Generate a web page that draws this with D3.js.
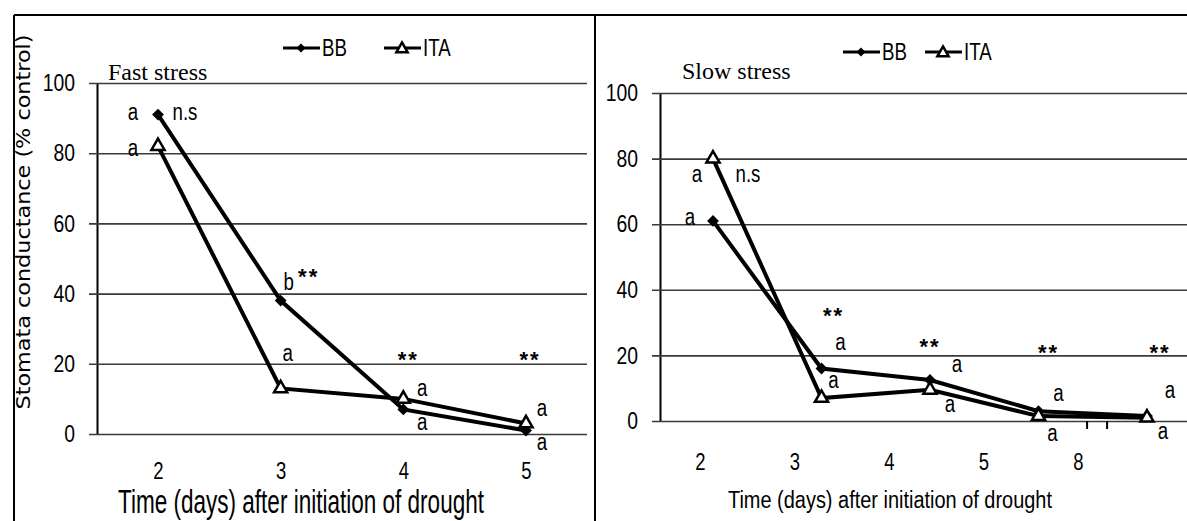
<!DOCTYPE html>
<html>
<head>
<meta charset="utf-8">
<script src="https://cdnjs.cloudflare.com/ajax/libs/d3/7.8.5/d3.min.js"></script>
<style>
body { margin: 0; background: #fff; }
</style>
</head>
<body>
<div id="chart"></div>
<script>
// data (% of control)
var daysFast = ["2", "3", "4", "5"];
var bbFast = [91, 38, 7, 1];
var itaFast = [82, 13, 10, 3];

var daysSlow = ["2", "3", "4", "5", "8"];
var bbSlow = [61, 16, 12.5, 3, 1.5];
var itaSlow = [80, 7, 9.5, 1.5, 1];

var yTicks = [0, 20, 40, 60, 80, 100];
var seriesNames = ["BB", "ITA"];

// letters / significance marks, [day, text]
var notesFast = [["2", "a"], ["2", "n.s"], ["2", "a"], ["3", "b"], ["3", "**"], ["3", "a"],
    ["4", "**"], ["4", "a"], ["4", "a"], ["5", "**"], ["5", "a"], ["5", "a"]];
var notesSlow = [["2", "a"], ["2", "n.s"], ["2", "a"], ["3", "**"], ["3", "a"], ["3", "a"],
    ["4", "**"], ["4", "a"], ["4", "a"], ["5", "**"], ["5", "a"], ["5", "a"],
    ["8", "**"], ["8", "a"], ["8", "a"]];

var sans = "'Liberation Sans', Arial, sans-serif";

var svg = d3.select("#chart")
    .append("svg")
    .attr("width", 1187)
    .attr("height", 521);

// squeeze text sideways to look like the narrow font of the original
function condense(sel, sx, sy) {
    sel.attr("transform", function () {
        var t = d3.select(this);
        var x = +t.attr("x") || 0, y = +t.attr("y") || 0;
        return "translate(" + x + "," + y + ") scale(" + sx + "," + sy + ") translate(" + (-x) + "," + (-y) + ")";
    });
}

// frame
svg.append("line").attr("x1", 14).attr("x2", 1187).attr("y1", 15).attr("y2", 15)
    .attr("stroke", "#000").attr("stroke-width", 2);
svg.append("line").attr("x1", 14).attr("x2", 14).attr("y1", 15).attr("y2", 521)
    .attr("stroke", "#000").attr("stroke-width", 2);
svg.append("line").attr("x1", 595).attr("x2", 595).attr("y1", 15).attr("y2", 521)
    .attr("stroke", "#000").attr("stroke-width", 2);

function drawPanel(p) {
    var g = svg.append("g");
    var y = d3.scaleLinear().domain([0, 100]).range([p.y0, p.y100]);
    var x = d3.scalePoint().domain(p.days).range(p.markRange);
    var xl = d3.scalePoint().domain(p.days).range(p.labelRange);

    var yAxis = g.append("g")
        .attr("transform", "translate(" + p.axisX + ",0)")
        .call(d3.axisLeft(y).tickValues(yTicks)
            .tickSize(-(p.gridEnd - p.axisX)).tickSizeOuter(0).tickPadding(22));
    yAxis.select(".domain").attr("stroke", "#000").attr("stroke-width", 2);
    yAxis.selectAll(".tick line")
        .attr("x1", -8)
        .attr("stroke", "#3a3a3a")
        .attr("stroke-width", 1.6);
    yAxis.selectAll(".tick text")
        .attr("font-family", sans)
        .attr("font-size", "22px")
        .attr("fill", "#000")
        .call(condense, 0.88, 1.1);

    var xAxis = g.append("g")
        .attr("transform", "translate(0," + p.labelY + ")")
        .call(d3.axisBottom(xl).tickSize(0).tickPadding(0));
    xAxis.select(".domain").remove();
    xAxis.selectAll(".tick text")
        .attr("dy", 0)
        .attr("font-family", sans)
        .attr("font-size", p.labelSize)
        .attr("fill", "#000")
        .call(condense, 0.88, 1.1);

    // broken-axis marks
    if (p.breakAfter) {
        var mid = x(p.breakAfter) + x.step() * 0.54;
        g.selectAll(".brk")
            .data([-10, 10])
            .enter()
            .append("line")
            .attr("x1", function (d) { return mid + d; })
            .attr("x2", function (d) { return mid + d; })
            .attr("y1", p.y0)
            .attr("y2", p.y0 + 8)
            .attr("stroke", "#000")
            .attr("stroke-width", 2);
    }

    var line = d3.line()
        .x(function (d, i) { return x(p.days[i]); })
        .y(function (d) { return y(d); });

    [p.bb, p.ita].forEach(function (vals) {
        g.append("path")
            .attr("d", line(vals))
            .attr("fill", "none")
            .attr("stroke", "#000")
            .attr("stroke-width", 4);
    });

    g.selectAll(".bb")
        .data(p.bb)
        .enter()
        .append("path")
        .attr("d", d3.symbol(d3.symbolSquare, 70)())
        .attr("transform", function (d, i) {
            return "translate(" + x(p.days[i]) + "," + y(d) + ") rotate(45)";
        })
        .attr("fill", "#000");

    g.selectAll(".ita")
        .data(p.ita)
        .enter()
        .append("path")
        .attr("d", d3.symbol(d3.symbolTriangle, 75)())
        .attr("transform", function (d, i) {
            return "translate(" + x(p.days[i]) + "," + y(d) + ")";
        })
        .attr("fill", "#fff")
        .attr("stroke", "#000")
        .attr("stroke-width", 2.5);

    var notes = g.selectAll(".note")
        .data(p.notes)
        .enter()
        .append("text")
        .attr("x", function (d, i) { return x(d[0]) + p.noteLayout[i][0]; })
        .attr("y", function (d, i) {
            var shift = d[1] == "**" ? 12 : (d[1] == "b" ? 8 : 5.5);
            return y(p.noteLayout[i][1]) + shift;
        })
        .attr("text-anchor", "middle")
        .attr("font-family", sans)
        .attr("font-size", "22px")
        .attr("font-weight", function (d) { return d[1] == "**" ? 700 : 400; })
        .attr("letter-spacing", function (d) { return d[1] == "**" ? "2px" : "0px"; })
        .attr("fill", "#000")
        .text(function (d) { return d[1]; });
    notes.filter(function (d) { return d[1] != "**"; }).call(condense, 0.85, 1.05);

    // panel title
    g.append("text")
        .attr("x", p.titleX)
        .attr("y", p.titleY)
        .attr("font-family", "'Liberation Serif', 'Times New Roman', serif")
        .attr("font-size", "24px")
        .attr("fill", "#000")
        .text(p.title);

    // x title
    g.append("text")
        .attr("x", p.xTitle[0])
        .attr("y", p.xTitle[1])
        .attr("text-anchor", "middle")
        .attr("font-family", sans)
        .attr("font-size", p.xTitle[3])
        .attr("textLength", p.xTitle[2])
        .attr("lengthAdjust", "spacingAndGlyphs")
        .attr("fill", "#000")
        .text("Time (days) after initiation of drought")
        .call(condense, 1, p.xTitle[4]);

    // legend
    var leg = g.selectAll(".leg")
        .data(seriesNames)
        .enter()
        .append("g")
        .attr("transform", function (d, i) {
            return "translate(" + p.legend[i] + "," + p.legendY + ")";
        });
    leg.append("line")
        .attr("x1", 0).attr("x2", 37)
        .attr("stroke", "#000").attr("stroke-width", 3);
    leg.append("path")
        .attr("d", function (d, i) {
            return i == 0 ? d3.symbol(d3.symbolSquare, 40)() : d3.symbol(d3.symbolTriangle, 55)();
        })
        .attr("transform", function (d, i) {
            return i == 0 ? "translate(18,0) rotate(45)" : "translate(18,1)";
        })
        .attr("fill", function (d, i) { return i == 0 ? "#000" : "#fff"; })
        .attr("stroke", "#000")
        .attr("stroke-width", function (d, i) { return i == 0 ? 0 : 2.5; });
    leg.append("text")
        .attr("x", 39)
        .attr("y", 7.5)
        .attr("font-family", sans)
        .attr("font-size", "22px")
        .attr("fill", "#000")
        .text(function (d) { return d; })
        .call(condense, 0.85, 1.05);
}

drawPanel({
    days: daysFast, bb: bbFast, ita: itaFast, notes: notesFast,
    noteLayout: [[-25, 90.9], [27, 90.9], [-25, 80.9], [8, 43.3], [28, 46.2], [7, 22.5],
        [5, 22.5], [19, 12.5], [19, 2.6], [4, 22.5], [16, 6.8], [16, -3.1]],
    y0: 434, y100: 83, axisX: 97, gridEnd: 587,
    markRange: [158, 526], labelRange: [158, 526], labelY: 479, labelSize: "21px",
    title: "Fast stress", titleX: 108, titleY: 80,
    xTitle: [301, 513, 366, "24px", 1.35],
    legend: [283, 384], legendY: 48
});

drawPanel({
    days: daysSlow, bb: bbSlow, ita: itaSlow, notes: notesSlow,
    noteLayout: [[-16, 74.4], [35, 74.4], [-23, 61.3], [12, 33.5], [19, 23.3], [12, 11.6],
        [0, 24.1], [27, 16.5], [20, 4.3], [10, 22.3], [20, 7.9], [14, -4.3],
        [13, 22.3], [23, 8.8], [16, -3.7]],
    y0: 421, y100: 93, axisX: 660, gridEnd: 1187,
    markRange: [713, 1147], labelRange: [700, 1078], labelY: 470, labelSize: "21px",
    breakAfter: "5",
    title: "Slow stress", titleX: 682, titleY: 79,
    xTitle: [890, 508, 324, "22px", 1.05],
    legend: [843, 925], legendY: 52
});

// y-axis title
svg.append("text")
    .attr("transform", "translate(30,222) rotate(-90)")
    .attr("text-anchor", "middle")
    .attr("font-family", "'DejaVu Sans', Verdana, sans-serif")
    .attr("font-size", "19px")
    .attr("textLength", 375)
    .attr("lengthAdjust", "spacingAndGlyphs")
    .attr("fill", "#000")
    .text("Stomata conductance (% control)");
</script>
</body>
</html>
